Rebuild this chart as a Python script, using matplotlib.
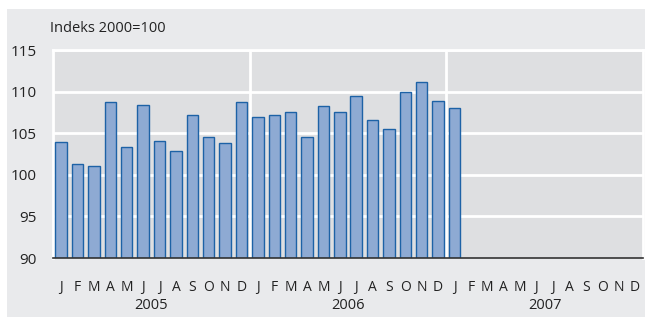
import matplotlib
matplotlib.use("Agg")
import matplotlib.pyplot as plt
from matplotlib.patches import Rectangle
import matplotlib.transforms as mtransforms

plt.rcParams["font.family"] = ["Open Sans", "DejaVu Sans"]

# index values, Jan 2005 .. Jan 2007
values = [103.9, 101.3, 101.0, 108.7, 103.4, 108.4, 104.1, 102.9, 107.2, 104.6, 103.8, 108.8,
          107.0, 107.2, 107.6, 104.6, 108.3, 107.6, 109.5, 106.6, 105.5, 109.9, 111.1, 108.9,
          108.0]
month_letters = ["J", "F", "M", "A", "M", "J", "J", "A", "S", "O", "N", "D"]
years = ["2005", "2006", "2007"]
yticks = [90, 95, 100, 105, 110, 115]
n_months = 12 * len(years)

W, H = 656, 319
fig = plt.figure(figsize=(W / 100, H / 100), dpi=100)
fig.patch.set_facecolor("white")

# outer gray panel
fig.add_artist(Rectangle((7 / W, 2 / H), 638 / W, 308 / H, transform=fig.transFigure,
                         facecolor="#e9eaec", edgecolor="none", zorder=-1))

ax = fig.add_axes([53 / W, (H - 258) / H, 590 / W, 208 / H])
ax.set_zorder(1)
ax.set_facecolor("#dedfe1")
ax.set_xlim(-0.5, n_months - 0.5)
ax.set_ylim(90, 115)

for y in yticks[1:]:
    ax.axhline(y, color="white", lw=2, zorder=1)
for k in range(1, len(years)):
    ax.axvline(12 * k - 0.5, color="white", lw=2, zorder=1)

ax.bar(range(len(values)), [v - 90 for v in values], bottom=90, width=0.7,
       color="#8eaad3", edgecolor="#1d62a6", linewidth=1.0, zorder=3)

for side in ["top", "left", "right"]:
    ax.spines[side].set_color("white")
    ax.spines[side].set_linewidth(2)
ax.spines["bottom"].set_color("#333333")
ax.spines["bottom"].set_linewidth(1.2)
ax.spines["bottom"].set_zorder(4)

ax.set_yticks(yticks)
ax.set_yticklabels([str(t) for t in yticks], fontsize=11, color="#222222")
ax.tick_params(axis="y", length=0, pad=12)

ax.set_xticks(range(n_months))
ax.set_xticklabels(month_letters * len(years), fontsize=10, color="#222222")
ax.tick_params(axis="x", length=0, pad=16)

trans = mtransforms.blended_transform_factory(ax.transData, ax.transAxes)
for i, yr in enumerate(years):
    ax.text(12 * i + 5.5, -0.228, yr, transform=trans, ha="center", va="center",
            fontsize=10.5, color="#222222")

fig.text(50 / W, 1 - 29 / H, "Indeks 2000=100", ha="left", va="center",
         fontsize=10.5, color="#222222")

fig.savefig("out.png", dpi=100, facecolor=fig.get_facecolor())
